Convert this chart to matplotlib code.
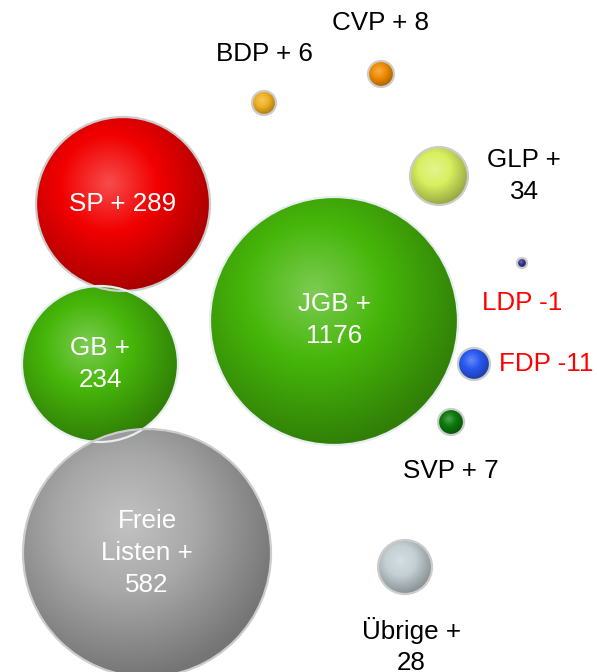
import textwrap
import numpy as np
import matplotlib
matplotlib.use("Agg")
import matplotlib.pyplot as plt
from matplotlib.patches import Circle
from matplotlib.colors import to_rgb

plt.rcParams['font.family'] = ['Liberation Sans', 'DejaVu Sans']

# parties and change in members
parties = ["SP", "GB", "Freie Listen", "JGB", "BDP", "CVP", "GLP", "LDP", "FDP", "SVP", "Übrige"]
changes = [289, 234, 582, 1176, 6, 8, 34, -1, -11, 7, 28]
colors = ["#f20000", "#46b60a", "#a8a8a8", "#46b60a", "#f0b020", "#f08c00",
          "#d8f060", "#303090", "#2858f0", "#0a7a0a", "#c4d0d4"]

# bubble layout (pixels)
bx = [123, 100, 147, 334, 264, 381, 439, 522, 474, 451, 405]
by = [204, 364, 553, 321, 103, 74, 176, 263, 364, 422, 567]
br = [87, 78, 124, 124, 12, 13, 29, 5, 16, 13, 27]

# label placement: offset from bubble centre, wrap width
lab_dx = [0, 0, 0, 0, 0, 0, 85, 0, 25, 0, 6]
lab_dy = [0, 0, 0, -1, -49, -51, 0, 40, 0, 49, 79]
lab_ha = ["center"] * 8 + ["left", "center", "center"]
wrap_w = [20, 4, 8, 5, 20, 20, 5, 20, 20, 20, 8]


def lighten(c, f):
    c = np.array(to_rgb(c))
    return c + (1 - c) * f


def darken(c, f):
    return np.array(to_rgb(c)) * (1 - f)


def gradient_img(color, n=240):
    u, v = np.meshgrid(np.linspace(0, 1, n), np.linspace(0, 1, n))
    d = np.sqrt((u - 0.42) ** 2 + (v - 0.38) ** 2) / 0.62
    d = np.clip(d, 0, 1)
    c0 = lighten(color, 0.3)
    c1 = np.array(to_rgb(color))
    c2 = darken(color, 0.3)
    img = np.zeros((n, n, 3))
    for k in range(3):
        img[..., k] = np.interp(d, [0, 0.45, 1], [c0[k], c1[k], c2[k]])
    return img


fig = plt.figure(figsize=(5.97, 6.72), dpi=100)
ax = fig.add_axes([0, 0, 1, 1])
ax.set_xlim(0, 597)
ax.set_ylim(672, 0)
ax.axis('off')

for i in range(len(parties)):
    x, y, r = bx[i], by[i], br[i]
    clip = Circle((x, y), r, transform=ax.transData)
    im = ax.imshow(gradient_img(colors[i]), extent=(x - r, x + r, y + r, y - r),
                   origin='upper', interpolation='bilinear', zorder=2)
    im.set_clip_path(clip)
    edge = "#e6eef0" if parties[i] in ("GB", "JGB") else "#cccccc"
    ax.add_patch(Circle((x, y), r, fill=False, ec=edge, lw=1.6, zorder=3))

    v = changes[i]
    txt = f"{parties[i]} + {v}" if v > 0 else f"{parties[i]} {v}"
    txt = "\n".join(textwrap.wrap(txt, wrap_w[i]))
    if r > 60:
        tc = "white"
    elif v < 0:
        tc = "#ff0000"
    else:
        tc = "black"
    ax.text(x + lab_dx[i], y + lab_dy[i], txt, ha=lab_ha[i], va='center',
            color=tc, fontsize=18.7, linespacing=1.4, zorder=4)

ax.set_xlim(0, 597)
ax.set_ylim(672, 0)
fig.savefig("out.png", dpi=100)
